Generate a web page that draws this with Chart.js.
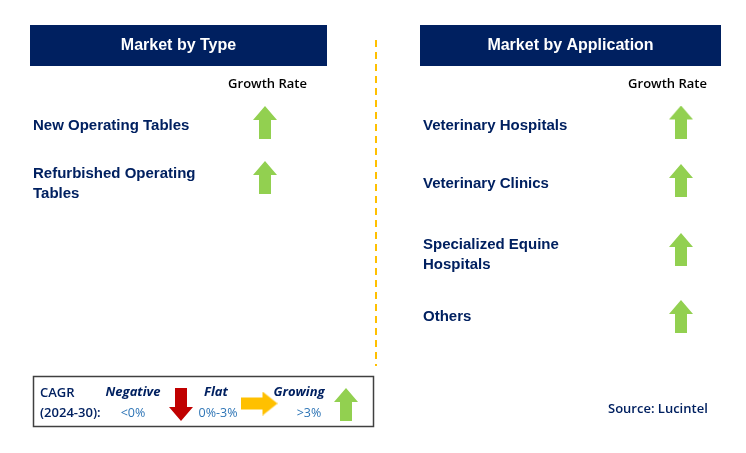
<!DOCTYPE html>
<html>
<head>
<meta charset="utf-8">
<script src="https://cdn.jsdelivr.net/npm/chart.js@4.4.0/dist/chart.umd.min.js"></script>
<style>
  html, body { margin: 0; padding: 0; background: #fff; }
  canvas { display: block; }
</style>
</head>
<body>
<canvas id="chart" width="746" height="453"></canvas>
<script>
// --- data ---
const typeTitle = "Market by Type";
const typeCategories = [["New Operating Tables"], ["Refurbished Operating", "Tables"]];
const typeGrowth = ["up", "up"];

const appTitle = "Market by Application";
const appCategories = [["Veterinary Hospitals"], ["Veterinary Clinics"], ["Specialized Equine", "Hospitals"], ["Others"]];
const appGrowth = ["up", "up", "up", "up"];

const legendLabels = ["Negative", "Flat", "Growing"];
const legendRanges = ["<0%", "0%-3%", ">3%"];
const legendDirections = ["down", "right", "up"];
const cagrLabel = ["CAGR", "(2024-30):"];
const sourceText = "Source: Lucintel";

// --- layout (pixel space of the canvas) ---
const NAVY = "#002060";
const GREEN = "#92D050";
const RED = "#C00000";
const YELLOW = "#FFC000";
const typeArrowX = 265, appArrowX = 681;
const typeArrowY = [122.5, 177.5];
const appArrowY = [122, 180.5, 249.5, 316.5];
const typeLabelY = [125.5, 184];
const appLabelY = [125.5, 183.5, 254.5, 316.5];
const legendArrowX = [181, 259, 346];
const legendArrowY = [404.5, 403.5, 404.5];

function makeArrow(dir, color) {
  const c = document.createElement("canvas");
  const long = 33, wide = 24, head = 14, shaft = 12;
  const horiz = dir === "right";
  c.width = horiz ? 37 : wide;
  c.height = horiz ? 24 : long;
  const g = c.getContext("2d");
  g.fillStyle = color;
  g.beginPath();
  if (dir === "up") {
    g.moveTo(wide / 2, 0); g.lineTo(wide, head); g.lineTo(wide / 2 + shaft / 2, head);
    g.lineTo(wide / 2 + shaft / 2, long); g.lineTo(wide / 2 - shaft / 2, long);
    g.lineTo(wide / 2 - shaft / 2, head); g.lineTo(0, head);
  } else if (dir === "down") {
    g.moveTo(wide / 2, long); g.lineTo(wide, long - head); g.lineTo(wide / 2 + shaft / 2, long - head);
    g.lineTo(wide / 2 + shaft / 2, 0); g.lineTo(wide / 2 - shaft / 2, 0);
    g.lineTo(wide / 2 - shaft / 2, long - head); g.lineTo(0, long - head);
  } else {
    const w = 37, h = 24;
    g.moveTo(w, h / 2); g.lineTo(w - 15, 0); g.lineTo(w - 15, h / 2 - shaft / 2);
    g.lineTo(0, h / 2 - shaft / 2); g.lineTo(0, h / 2 + shaft / 2);
    g.lineTo(w - 15, h / 2 + shaft / 2); g.lineTo(w - 15, h);
  }
  g.closePath();
  g.fill();
  return c;
}
const arrowImg = {
  up: makeArrow("up", GREEN),
  down: makeArrow("down", RED),
  right: makeArrow("right", YELLOW)
};

const arrowPoints = [];
const arrowStyles = [];
typeGrowth.forEach((d, i) => { arrowPoints.push({ x: typeArrowX, y: typeArrowY[i] }); arrowStyles.push(arrowImg[d]); });
appGrowth.forEach((d, i) => { arrowPoints.push({ x: appArrowX, y: appArrowY[i] }); arrowStyles.push(arrowImg[d]); });
legendDirections.forEach((d, i) => { arrowPoints.push({ x: legendArrowX[i], y: legendArrowY[i] }); arrowStyles.push(arrowImg[d]); });

const infographic = {
  id: "infographic",
  beforeDatasetsDraw(chart) {
    const ctx = chart.ctx;
    const sx = chart.scales.x, sy = chart.scales.y;
    const X = v => sx.getPixelForValue(v), Y = v => sy.getPixelForValue(v);
    ctx.save();
    ctx.textBaseline = "middle";

    // header boxes
    ctx.fillStyle = NAVY;
    ctx.fillRect(X(30), Y(25), X(327) - X(30), Y(66) - Y(25));
    ctx.fillRect(X(420), Y(25), X(721) - X(420), Y(66) - Y(25));
    ctx.fillStyle = "#fff";
    ctx.font = "bold 16px 'Liberation Sans', Arial, sans-serif";
    ctx.textAlign = "center";
    ctx.fillText(typeTitle, X(178.5), Y(46));
    ctx.fillText(appTitle, X(570.5), Y(46));

    // growth rate headers
    ctx.fillStyle = "#000";
    ctx.font = "600 13px 'Open Sans', sans-serif";
    ctx.fillText("Growth Rate", X(267.5), Y(84.5));
    ctx.fillText("Growth Rate", X(667.5), Y(84.5));

    // category labels
    ctx.textAlign = "left";
    ctx.fillStyle = NAVY;
    ctx.font = "bold 15px 'Liberation Sans', Arial, sans-serif";
    const lh = 20;
    typeCategories.forEach((lines, i) => {
      const top = typeLabelY[i] - (lines.length - 1) * lh / 2;
      lines.forEach((t, k) => ctx.fillText(t, X(33), Y(top + k * lh)));
    });
    appCategories.forEach((lines, i) => {
      const top = appLabelY[i] - (lines.length - 1) * lh / 2;
      lines.forEach((t, k) => ctx.fillText(t, X(423), Y(top + k * lh)));
    });

    // dashed divider
    ctx.strokeStyle = YELLOW;
    ctx.lineWidth = 2;
    ctx.setLineDash([7, 5]);
    ctx.beginPath();
    ctx.moveTo(X(376), Y(40));
    ctx.lineTo(X(376), Y(366));
    ctx.stroke();
    ctx.setLineDash([]);

    // legend box
    ctx.strokeStyle = "#404040";
    ctx.lineWidth = 1.5;
    ctx.strokeRect(X(33.5), Y(376.5), X(373.5) - X(33.5), Y(426.5) - Y(376.5));
    ctx.fillStyle = NAVY;
    ctx.font = "600 13px 'Open Sans', sans-serif";
    ctx.fillText(cagrLabel[0], X(40), Y(393.5));
    ctx.fillText(cagrLabel[1], X(40), Y(413.5));

    ctx.textAlign = "center";
    const labelX = [133, 216, 299];
    const rangeX = [133, 218, 309];
    legendLabels.forEach((t, i) => {
      ctx.fillStyle = NAVY;
      ctx.font = "italic bold 13px 'Open Sans', sans-serif";
      ctx.fillText(t, X(labelX[i]), Y(392.5));
      ctx.fillStyle = "#2E75B6";
      ctx.font = "12.5px 'Open Sans', sans-serif";
      ctx.fillText(legendRanges[i], X(rangeX[i]), Y(413.5));
    });

    // source
    ctx.fillStyle = NAVY;
    ctx.textAlign = "left";
    ctx.font = "600 13px 'Open Sans', sans-serif";
    ctx.fillText(sourceText, X(608), Y(409));
    ctx.restore();
  }
};

new Chart(document.getElementById("chart"), {
  type: "scatter",
  data: {
    datasets: [{
      data: arrowPoints,
      pointStyle: arrowStyles,
      pointRadius: 12,
      pointHoverRadius: 12
    }]
  },
  options: {
    responsive: false,
    animation: false,
    devicePixelRatio: 1,
    layout: { padding: 0, autoPadding: false },
    plugins: { legend: { display: false }, tooltip: { enabled: false } },
    scales: {
      x: { type: "linear", min: 0, max: 746, display: false },
      y: { type: "linear", min: 0, max: 453, reverse: true, display: false }
    }
  },
  plugins: [infographic]
});
</script>
</body>
</html>
